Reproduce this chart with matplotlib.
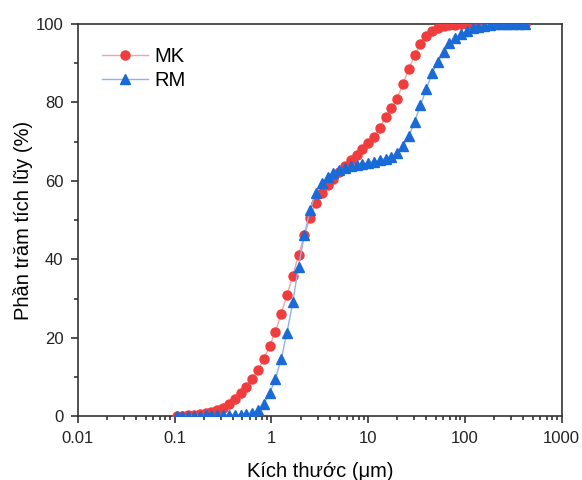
import matplotlib
matplotlib.use("Agg")
import matplotlib.pyplot as plt
from matplotlib.ticker import FixedLocator, FuncFormatter, LogLocator, MultipleLocator

plt.rcParams['font.family'] = ['Liberation Sans', 'DejaVu Sans']

# kich thuoc hat (um) - cac bin do
size = [0.105, 0.120, 0.138, 0.158, 0.182, 0.209, 0.240, 0.275, 0.316, 0.363,
        0.417, 0.479, 0.550, 0.631, 0.724, 0.832, 0.955, 1.096, 1.259, 1.445,
        1.660, 1.905, 2.188, 2.512, 2.884, 3.311, 3.802, 4.365, 5.012, 5.754,
        6.607, 7.586, 8.710, 10.0, 11.48, 13.18, 15.14, 17.38, 19.95, 22.91,
        26.30, 30.20, 34.67, 39.81, 45.71, 52.48, 60.26, 69.18, 79.43, 91.20,
        104.7, 120.2, 138.0, 158.5, 182.0, 208.9, 239.9, 275.4, 316.2, 363.1,
        416.9]

mk = [0.1, 0.15, 0.2, 0.3, 0.45, 0.7, 1.0, 1.5, 2.2, 3.2,
      4.4, 5.8, 7.5, 9.4, 11.7, 14.5, 17.8, 21.5, 26.0, 30.8,
      35.8, 41.0, 46.2, 50.6, 54.3, 57.0, 59.0, 60.6, 62.2, 63.8,
      65.3, 66.7, 68.2, 69.7, 71.3, 73.5, 76.2, 78.5, 81.0, 84.8,
      88.5, 92.0, 95.0, 96.9, 98.2, 98.9, 99.4, 99.7, 99.85, 99.95,
      100, 100, 100, 100, 100, 100, 100, 100, 100, 100,
      100]

rm = [0.0, 0.05, 0.1, 0.1, 0.15, 0.2, 0.2, 0.25, 0.3, 0.3,
      0.35, 0.4, 0.5, 0.7, 1.5, 3.1, 5.8, 9.4, 14.5, 21.2,
      29.0, 38.1, 46.2, 52.6, 57.0, 59.4, 61.0, 62.0, 62.8, 63.3,
      63.7, 64.0, 64.3, 64.6, 64.9, 65.3, 65.7, 66.2, 67.0, 68.9,
      71.4, 75.1, 79.3, 83.3, 87.4, 90.4, 92.9, 95.1, 96.4, 97.4,
      98.3, 98.9, 99.3, 99.6, 99.8, 99.9, 100, 100, 100, 100,
      100]

red = "#f03c3c"
blue = "#1a6ad8"

fig = plt.figure(figsize=(5.82, 4.8), dpi=100)
ax = fig.add_axes([0.134, 0.133, 0.831, 0.817])

ax.plot(size, mk, color="#f7a3a8", lw=1.0, marker="o", ms=6.5,
        mfc=red, mec=red, label="MK", zorder=3)
ax.plot(size, rm, color="#8ab4ee", lw=1.0, marker="^", ms=7,
        mfc=blue, mec=blue, label="RM", zorder=4)

ax.set_xscale("log")
ax.set_xlim(0.01, 1000)
ax.set_ylim(0, 100)

ax.xaxis.set_major_locator(FixedLocator([0.01, 0.1, 1, 10, 100, 1000]))
ax.xaxis.set_major_formatter(FuncFormatter(lambda v, p: "%g" % v))
ax.xaxis.set_minor_locator(LogLocator(base=10, subs=range(2, 10), numticks=20))
ax.yaxis.set_major_locator(MultipleLocator(20))
ax.yaxis.set_minor_locator(MultipleLocator(10))

ax.tick_params(which="both", direction="out", top=False, right=False,
               labelsize=12, colors="#222222", width=1.1)
ax.tick_params(which="major", length=5, pad=5.5)
ax.tick_params(which="minor", length=3)
for s in ax.spines.values():
    s.set_linewidth(1.2)
    s.set_color("#333333")

ax.set_xlabel("Kích thước (μm)", fontsize=14.5, labelpad=12)
ax.set_ylabel("Phần trăm tích lũy (%)", fontsize=14.5, labelpad=2)

ax.legend(loc="upper left", frameon=False, fontsize=14.5, handlelength=2.3,
          handletextpad=0.3, labelspacing=0.25, borderaxespad=0.0,
          bbox_to_anchor=(0.033, 0.962))

fig.savefig("out.png", dpi=100)
